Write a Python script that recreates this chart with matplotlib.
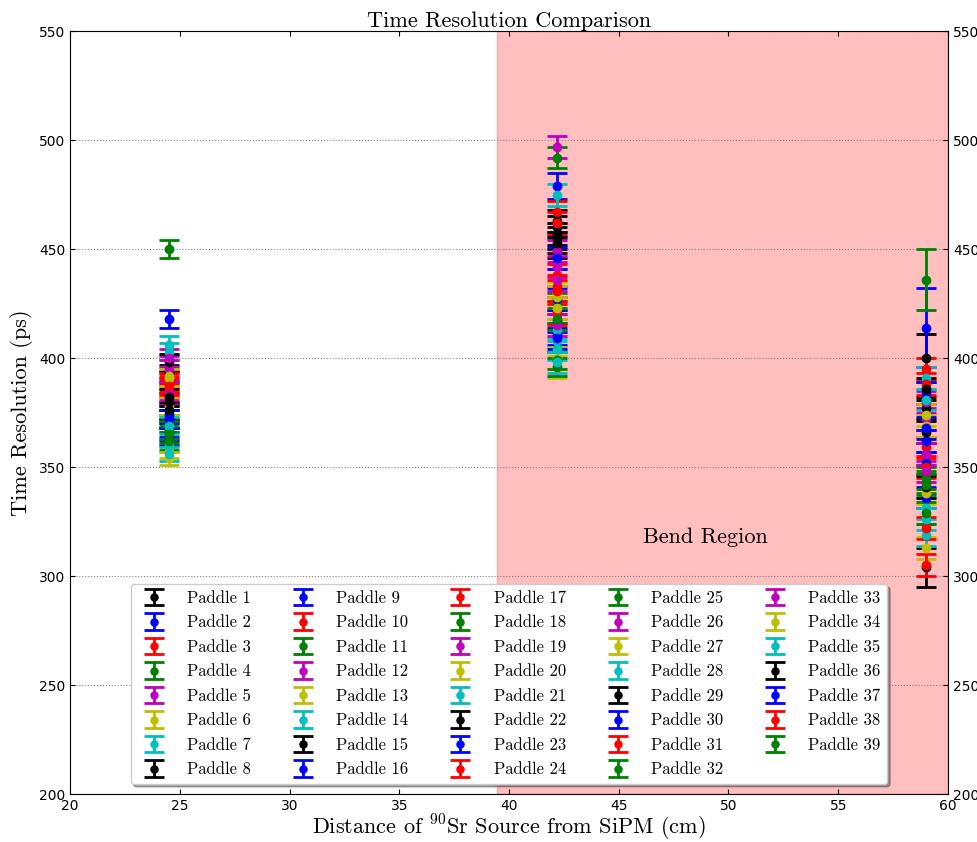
import matplotlib
matplotlib.use('Agg')
import matplotlib.pyplot as plt

plt.rcParams['mathtext.fontset'] = 'cm'
plt.rcParams['axes.unicode_minus'] = False

SERIF = 'cmr10'

# source positions (cm)
distances = [24.5, 42.2, 59.0]

colors = ['k', 'b', 'r', 'g', 'm', 'y', 'c']

# time resolution (ps) per paddle, one list per source position
res_near = [372, 368, 386, 375, 397, 357, 403, 393, 364, 390,
            370, 383, 378, 360, 380, 374, 388, 362, 395, 392,
            406, 398, 366, 384, 450, 400, 354, 356, 376, 372,
            389, 367, 385, 391, 369, 382, 418, 387, 365]
res_mid = [451, 411, 438, 421, 497, 400, 404, 460, 479, 467,
           425, 442, 430, 475, 455, 417, 433, 492, 449, 396,
           408, 463, 427, 462, 396, 436, 428, 413, 457, 446,
           420, 399, 415, 423, 398, 453, 409, 431, 418]
res_far = [304, 336, 359, 345, 372, 313, 331, 400, 414, 395,
           436, 362, 338, 391, 377, 352, 350, 343, 380, 366,
           319, 366, 384, 322, 356, 348, 369, 326, 341, 362,
           388, 329, 356, 374, 381, 386, 368, 305, 342]

err_near = [4, 4, 4, 4, 4, 3, 4, 4, 4, 4,
            4, 4, 4, 3, 4, 4, 4, 4, 4, 4,
            4, 4, 4, 4, 4, 4, 3, 3, 4, 4,
            4, 4, 4, 4, 4, 4, 4, 4, 4]
err_mid = [5, 5, 5, 5, 5, 5, 5, 5, 6, 5,
           5, 5, 5, 5, 5, 5, 5, 5, 5, 5,
           5, 5, 5, 5, 4, 5, 5, 5, 5, 5,
           5, 4, 5, 5, 5, 5, 5, 5, 5]
err_far = [9, 5, 5, 5, 5, 5, 5, 11, 18, 5,
           14, 5, 5, 5, 5, 5, 5, 5, 5, 5,
           5, 5, 5, 5, 5, 5, 5, 5, 5, 5,
           5, 5, 5, 5, 5, 5, 5, 5, 5]

fig = plt.figure(figsize=(9.78, 8.42), dpi=100)
ax = fig.add_axes([0.0716, 0.057, 0.8977, 0.906])

ax.axvspan(39.45, 60, color='red', alpha=0.25)

for i in range(len(res_near)):
    ys = [res_near[i], res_mid[i], res_far[i]]
    es = [err_near[i], err_mid[i], err_far[i]]
    ax.errorbar(distances, ys, yerr=es, fmt='o', color=colors[i % 7],
                ms=6, elinewidth=2, capsize=7, capthick=2,
                label='Paddle %d' % (i + 1))

ax.text(48.95, 318, 'Bend Region', fontsize=16, family=SERIF,
        ha='center', va='center')

ax.set_xlim(20, 60)
ax.set_ylim(200, 550)
ax.set_xticks(range(20, 61, 5))
ax.set_yticks(range(200, 551, 50))
ax.yaxis.grid(True, linestyle=':', color='gray')
ax.tick_params(axis='y', right=True, labelright=True, direction='in')
ax.tick_params(axis='x', top=True, direction='in')
ax.tick_params(labelsize=10)

ax.set_title('Time Resolution Comparison', fontsize=16, family=SERIF, pad=3)
ax.set_xlabel(r'Distance of $^{90}$Sr Source from SiPM (cm)', fontsize=16,
              family=SERIF, labelpad=0)
ax.set_ylabel('Time Resolution (ps)', fontsize=16, family=SERIF)

ax.legend(loc='lower center', bbox_to_anchor=(0.5, 0.0), ncol=5,
          prop={'family': SERIF, 'size': 12}, fancybox=True, shadow=True,
          framealpha=1, labelspacing=0.55, columnspacing=2.1,
          handletextpad=1.0, borderaxespad=0.6, markerscale=0.85)

fig.savefig('out.png', dpi=100)
